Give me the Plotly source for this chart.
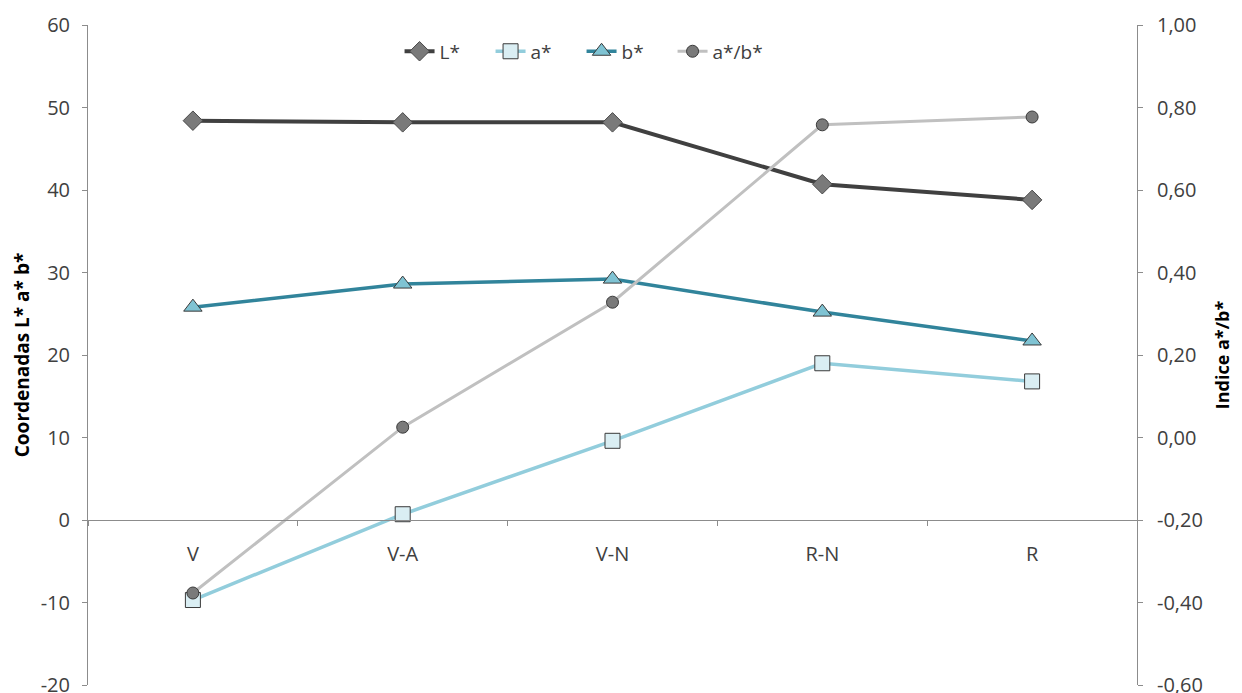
import plotly.graph_objects as go

categories = ["V", "V-A", "V-N", "R-N", "R"]
L_star = [48.4, 48.2, 48.2, 40.7, 38.8]
a_star = [-9.7, 0.7, 9.6, 19.0, 16.8]
b_star = [25.8, 28.6, 29.2, 25.2, 21.7]
ab_ratio = [-0.377, 0.025, 0.328, 0.758, 0.777]

left_ticks = [-20, -10, 0, 10, 20, 30, 40, 50, 60]
left_labels = ["-20", "-10", "0", "10", "20", "30", "40", "50", "60"]
right_ticks = [-0.6, -0.4, -0.2, 0.0, 0.2, 0.4, 0.6, 0.8, 1.0]
right_labels = ["-0,60", "-0,40", "-0,20", "0,00", "0,20", "0,40", "0,60", "0,80", "1,00"]

font = "Open Sans"
axis_col = "#8C8C8C"
txt_col = "#404040"
fs = 20

fig = go.Figure()
fig.add_trace(go.Scatter(
    x=categories, y=L_star, name="L*", mode="lines+markers",
    line=dict(color="#404040", width=4),
    marker=dict(symbol="diamond", size=15, color="#7A7A7A", line=dict(color="#4A4A4A", width=1)),
))
fig.add_trace(go.Scatter(
    x=categories, y=a_star, name="a*", mode="lines+markers",
    line=dict(color="#92CDDC", width=3.5),
    marker=dict(symbol="square", size=15, color="#DAEEF3", line=dict(color="#3A3A3A", width=1)),
))
fig.add_trace(go.Scatter(
    x=categories, y=b_star, name="b*", mode="lines+markers",
    line=dict(color="#31849B", width=3.5),
    marker=dict(symbol="triangle-up", size=16, color="#7FC3D3", line=dict(color="#3A3A3A", width=1)),
))
fig.add_trace(go.Scatter(
    x=categories, y=ab_ratio, name="a*/b*", mode="lines+markers", yaxis="y2",
    line=dict(color="#C0C0C0", width=3),
    marker=dict(symbol="circle", size=12, color="#7A7A7A", line=dict(color="#3A3A3A", width=1)),
))

fig.update_layout(
    width=1234, height=685,
    margin=dict(l=80, r=105, t=17, b=8, autoexpand=False),
    paper_bgcolor="white", plot_bgcolor="white",
    font=dict(family=font, size=fs, color=txt_col),
    showlegend=True,
    legend=dict(orientation="h", x=0.297, xanchor="left", y=0.96, yanchor="middle",
                font=dict(family=font, size=19, color=txt_col), bgcolor="rgba(0,0,0,0)",
                entrywidth=46, tracegroupgap=0),
    xaxis=dict(
        type="category", range=[-0.5, 4.5], anchor="free", position=0.25,
        showline=True, linecolor=axis_col, linewidth=1, automargin=False,
        ticks="outside", tickson="boundaries", ticklen=5, tickcolor=axis_col,
        showgrid=False, zeroline=False,
        tickfont=dict(family=font, size=fs, color=txt_col),
        ticklabelstandoff=16,
    ),
    yaxis=dict(
        range=[-20, 60], tickvals=left_ticks, ticktext=left_labels,
        showline=True, linecolor=axis_col, linewidth=1, automargin=False,
        ticks="outside", ticklen=5, tickcolor=axis_col,
        showgrid=False, zeroline=False, ticklabeloverflow="allow",
        ticklabelstandoff=8,
        tickfont=dict(family=font, size=fs, color=txt_col),
        title=dict(text="<b>Coordenadas L* a* b*</b>", font=dict(family=font, size=19, color="#000000"), standoff=6),
    ),
    yaxis2=dict(
        range=[-0.6, 1.0], tickvals=right_ticks, ticktext=right_labels,
        overlaying="y", side="right",
        showline=True, linecolor=axis_col, linewidth=1, automargin=False,
        ticks="outside", ticklen=5, tickcolor=axis_col,
        showgrid=False, zeroline=False, ticklabeloverflow="allow",
        ticklabelstandoff=10,
        tickfont=dict(family=font, size=fs, color=txt_col),
        title=dict(text="<b>Indice a*/b*</b>", font=dict(family=font, size=18, color="#000000"), standoff=14),
    ),
)

fig.write_html("out.html")
